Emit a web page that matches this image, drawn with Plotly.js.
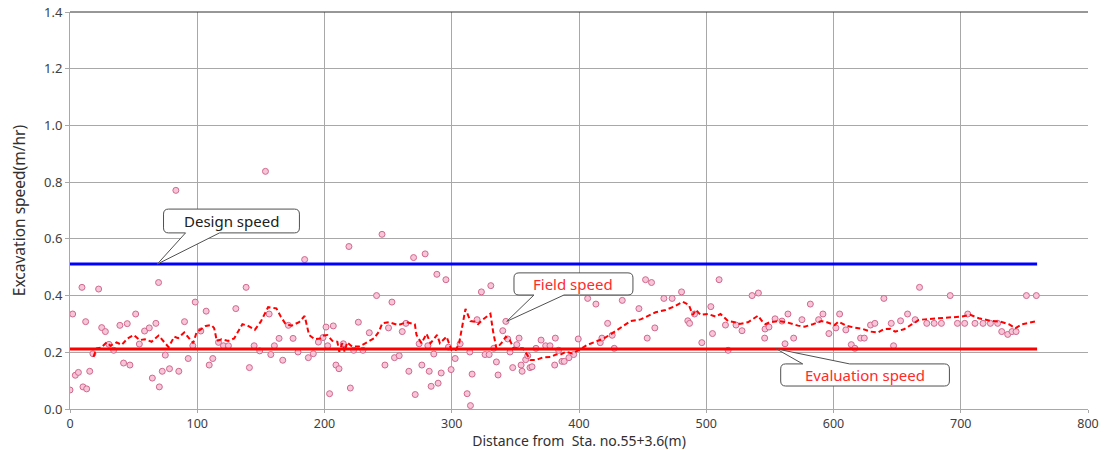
<!DOCTYPE html>
<html>
<head>
<meta charset="utf-8">
<script src="https://cdn.plot.ly/plotly-3.0.1.min.js"></script>
<style>html,body{margin:0;padding:0;background:#fff;}#chart{width:1106px;height:450px;}</style>
</head>
<body>
<div id="chart"></div>
<script>
// Field speed measurements (distance m, speed m/hr)
const fieldDistance = [0,2.1,4.2,6.6,9.4,10.2,12.3,13.1,15.5,18,22.5,24.9,27.8,30.6,34.3,39.2,42.1,45,47.1,51.6,54.5,58.6,62.3,64.7,67.5,69.6,70.2,72.5,74.9,78.2,83.2,85.5,90,92.9,96.5,98.4,102.8,107,109.4,112.2,116.7,120.6,124.5,130.3,138.4,141,144.7,149.1,153.6,156.5,157.8,160.6,164.3,167.2,171.6,175.3,179.2,184.4,187.3,191.2,195.2,198.8,201.2,202.5,204,206.9,209,211.4,214.8,219.2,220.3,222.9,226.6,230.2,235.2,240.9,245.2,247.5,250.3,253,255,258.7,261.1,264,266.3,270,271.3,274.4,276.5,279.1,281.2,282.3,283.8,285.9,288.3,289.3,291.7,295.4,297.4,299.5,302.7,306.6,312.1,314.2,314.7,316,319.9,323.3,326.2,329.4,330.7,333,335.1,336.4,340.1,342.5,344,345.8,347.9,351.1,352.9,354.5,355.3,358.1,359.7,361.5,363.1,366.2,370.2,373.8,377.2,380.9,381.4,384,386.6,388.4,392.1,395.8,399.4,406.8,413.3,416.7,418,422.5,426.1,427.7,434,447.1,452.3,453.6,457,459.6,466.7,473.2,480.6,485.5,486.9,490.8,496.5,503.6,504.9,510.1,515.1,517.2,523.4,528.1,536,541,545.9,546.2,549.3,554.1,559.5,561.9,564.2,568.7,575.2,581.8,588.3,591.7,596.4,601.9,604.8,609.7,614,616.8,621.3,624.2,629.1,632.5,639.6,645.4,647.2,652.7,658.2,664.2,667.6,673.3,679.1,684.8,691.7,697.4,703.1,705.5,711.2,717.5,723.3,729,732.2,736.9,740.3,743.5,751.6,759.4];
const fieldSpeed = [0.067,0.335,0.119,0.129,0.429,0.078,0.308,0.071,0.133,0.195,0.423,0.287,0.273,0.228,0.207,0.295,0.162,0.301,0.155,0.335,0.229,0.275,0.286,0.109,0.302,0.446,0.078,0.133,0.19,0.142,0.771,0.133,0.308,0.178,0.223,0.377,0.275,0.345,0.155,0.178,0.235,0.223,0.223,0.354,0.429,0.146,0.223,0.205,0.838,0.335,0.192,0.223,0.249,0.172,0.295,0.249,0.201,0.527,0.181,0.195,0.236,0.252,0.289,0.223,0.054,0.293,0.155,0.142,0.23,0.573,0.074,0.207,0.306,0.207,0.269,0.4,0.616,0.155,0.286,0.377,0.181,0.188,0.273,0.302,0.133,0.534,0.051,0.23,0.155,0.547,0.223,0.133,0.08,0.194,0.475,0.091,0.127,0.456,0.218,0.139,0.178,0.23,0.054,0.201,0.012,0.123,0.315,0.413,0.192,0.192,0.435,0.214,0.166,0.12,0.276,0.309,0.247,0.201,0.146,0.227,0.25,0.155,0.133,0.174,0.188,0.146,0.149,0.214,0.243,0.223,0.223,0.155,0.25,0.207,0.168,0.168,0.181,0.192,0.247,0.39,0.37,0.234,0.25,0.302,0.26,0.214,0.383,0.354,0.456,0.25,0.446,0.286,0.39,0.39,0.413,0.311,0.302,0.335,0.234,0.361,0.266,0.456,0.296,0.207,0.296,0.276,0.4,0.409,0.25,0.282,0.289,0.318,0.31,0.23,0.335,0.25,0.315,0.37,0.315,0.335,0.266,0.286,0.335,0.279,0.227,0.214,0.25,0.25,0.296,0.302,0.39,0.302,0.223,0.311,0.335,0.315,0.429,0.302,0.302,0.302,0.4,0.302,0.302,0.335,0.302,0.302,0.302,0.302,0.273,0.263,0.273,0.273,0.4,0.4];

// Running-average field speed (dashed line)
const avgDistance = [18.4,21,24.3,28.8,31.9,36.6,40.6,45.3,50.2,54.7,58.9,64.1,69.6,73.3,77.5,81.9,85,89.8,93.9,96.8,99.4,103.4,106.7,111.2,113.3,115.4,119.1,124.3,129,135.5,139.5,145.2,149.9,155.7,162.2,165.6,169.5,174.2,180,184.4,187.9,192.3,196.5,199.6,202.2,206.2,210.1,211.6,214,215.8,217.9,221.8,227.1,232.3,238.9,242.8,245.4,250.6,255.8,258,264.5,271,272.3,276.2,280.2,283.3,288.5,290.7,295.9,298,299.8,303.2,305.8,310.8,314.7,318.2,320.7,324.1,330.4,332.5,335.1,339,342.5,345.6,348.7,352.9,356,359.4,361.8,366.5,371.7,378.2,382.2,384.8,389.6,394.7,400,406.5,413.1,419.6,426.1,434,440.5,448.4,453.6,460.2,468,474.6,481.6,486.3,489.4,492,495.5,501.4,507.3,511.2,517.2,522.4,526.3,532.8,540.7,543.8,546.5,549.9,556.4,563,572.1,577.3,583.8,590.4,594.8,600.9,604,610,616.5,623.1,629.1,634.9,639.6,644.6,648.5,655.3,661.8,667,673.6,684,693.2,701,707.5,714.2,723.4,731.2,737.8,743,748.3,754.8,760];
const avgSpeed = [0.184,0.214,0.216,0.235,0.223,0.235,0.226,0.249,0.261,0.243,0.246,0.237,0.259,0.24,0.218,0.255,0.25,0.27,0.249,0.232,0.27,0.282,0.293,0.296,0.285,0.24,0.246,0.24,0.249,0.299,0.294,0.279,0.308,0.359,0.355,0.326,0.299,0.294,0.306,0.328,0.261,0.246,0.249,0.259,0.261,0.24,0.237,0.202,0.232,0.202,0.235,0.22,0.22,0.232,0.249,0.273,0.302,0.306,0.299,0.296,0.306,0.299,0.261,0.232,0.265,0.232,0.261,0.232,0.255,0.226,0.208,0.208,0.232,0.353,0.31,0.308,0.299,0.314,0.336,0.273,0.214,0.232,0.255,0.243,0.214,0.214,0.214,0.19,0.173,0.173,0.182,0.184,0.193,0.19,0.202,0.196,0.208,0.226,0.237,0.249,0.267,0.29,0.31,0.316,0.326,0.341,0.349,0.361,0.378,0.367,0.332,0.349,0.332,0.335,0.326,0.335,0.31,0.306,0.3,0.306,0.329,0.31,0.299,0.306,0.31,0.306,0.294,0.29,0.299,0.31,0.306,0.296,0.308,0.294,0.287,0.282,0.273,0.27,0.282,0.283,0.273,0.281,0.299,0.314,0.317,0.32,0.323,0.326,0.332,0.32,0.311,0.308,0.299,0.285,0.299,0.306,0.31];

// Reference speeds
const refDistance = [0, 760];
const designSpeed = [0.511, 0.511];
const evaluationSpeed = [0.212, 0.212];

const labels = {design: 'Design speed', field: 'Field speed', evaluation: 'Evaluation speed'};

// Callout bubble path: box [x0,x1]x[yb,yt], tail on side 'bottom' or 'top' between tx0..tx1 pointing to (px,py)
function bubble(x0, x1, yb, yt, tx0, tx1, px, py, side) {
  const rx = 5 / 1.274, ry = 5 / 283.5;
  let p = `M${x0 + rx},${yt} `;
  if (side === 'top') p += `L${tx0},${yt} L${px},${py} L${tx1},${yt} `;
  p += `L${x1 - rx},${yt} Q${x1},${yt} ${x1},${yt - ry} L${x1},${yb + ry} Q${x1},${yb} ${x1 - rx},${yb} `;
  if (side === 'bottom') p += `L${tx1},${yb} L${px},${py} L${tx0},${yb} `;
  p += `L${x0 + rx},${yb} Q${x0},${yb} ${x0},${yb + ry} L${x0},${yt - ry} Q${x0},${yt} ${x0 + rx},${yt} Z`;
  return {type: 'path', xref: 'x', yref: 'y', path: p, fillcolor: '#ffffff',
          line: {color: '#505050', width: 1}, layer: 'above'};
}

const traces = [
  {x: fieldDistance, y: fieldSpeed, type: 'scatter', mode: 'markers', name: labels.field,
   marker: {size: 6, color: '#f7c4d8', line: {color: '#cf6a8e', width: 1}}, hoverinfo: 'x+y'},
  {x: avgDistance, y: avgSpeed, type: 'scatter', mode: 'lines', name: 'Field speed (average)',
   line: {color: '#ff0000', width: 2, dash: '5px,3px'}},
  {x: refDistance, y: designSpeed, type: 'scatter', mode: 'lines', name: labels.design,
   line: {color: '#0000ff', width: 3}},
  {x: refDistance, y: evaluationSpeed, type: 'scatter', mode: 'lines', name: labels.evaluation,
   line: {color: '#ff0000', width: 3}}
];

const fontFam = '"Noto Sans", "Open Sans", sans-serif';

const layout = {
  width: 1106, height: 450,
  margin: {l: 70, r: 18, t: 12, b: 41},
  paper_bgcolor: '#ffffff', plot_bgcolor: '#ffffff',
  showlegend: false,
  font: {family: fontFam, size: 13, color: '#404040'},
  xaxis: {
    range: [0, 800], dtick: 100, tick0: 0, showgrid: true, gridcolor: '#a8a8a8', gridwidth: 1,
    zeroline: false, showline: true, linecolor: '#a8a8a8', linewidth: 1,
    ticks: 'outside', ticklen: 3, tickcolor: '#a8a8a8',
    tickfont: {family: fontFam, size: 12.5, color: '#404040'},
    title: {text: 'Distance from  Sta. no.55+3.6(m)', font: {family: fontFam, size: 14, color: '#303030'}, standoff: 7}
  },
  yaxis: {
    range: [0, 1.4], dtick: 0.2, tick0: 0, tickformat: '.1f', showgrid: true, gridcolor: '#a8a8a8', gridwidth: 1,
    zeroline: false, showline: true, linecolor: '#a8a8a8', linewidth: 1,
    ticks: 'outside', ticklen: 4, tickcolor: '#a8a8a8',
    tickfont: {family: fontFam, size: 13, color: '#404040'},
    title: {text: 'Excavation speed(m/hr)', font: {family: fontFam, size: 15.5, color: '#303030'}, standoff: 14}
  },
  shapes: [
    {type: 'line', xref: 'paper', yref: 'paper', x0: 0, x1: 1, y0: 1, y1: 1, line: {color: '#303030', width: 1}},
    bubble(73.5, 180.3, 0.621, 0.705, 90.8, 117.5, 68.6, 0.511, 'bottom'),
    bubble(348.9, 442.4, 0.402, 0.480, 364.6, 388.2, 343.2, 0.309, 'bottom'),
    bubble(558.5, 691.1, 0.081, 0.159, 575.8, 612.7, 555.1, 0.212, 'top')
  ],
  annotations: [
    {x: (73.5 + 180.3) / 2, y: 0.663, xref: 'x', yref: 'y', text: labels.design, showarrow: false,
     font: {family: fontFam, size: 15, color: '#202020'}},
    {x: (348.9 + 442.4) / 2, y: 0.441, xref: 'x', yref: 'y', text: labels.field, showarrow: false,
     font: {family: fontFam, size: 15, color: '#ff2a2a'}},
    {x: (558.5 + 691.1) / 2, y: 0.120, xref: 'x', yref: 'y', text: labels.evaluation, showarrow: false,
     font: {family: fontFam, size: 15, color: '#ff2a2a'}}
  ]
};

Plotly.newPlot('chart', traces, layout, {displayModeBar: false, staticPlot: true});
</script>
</body>
</html>
